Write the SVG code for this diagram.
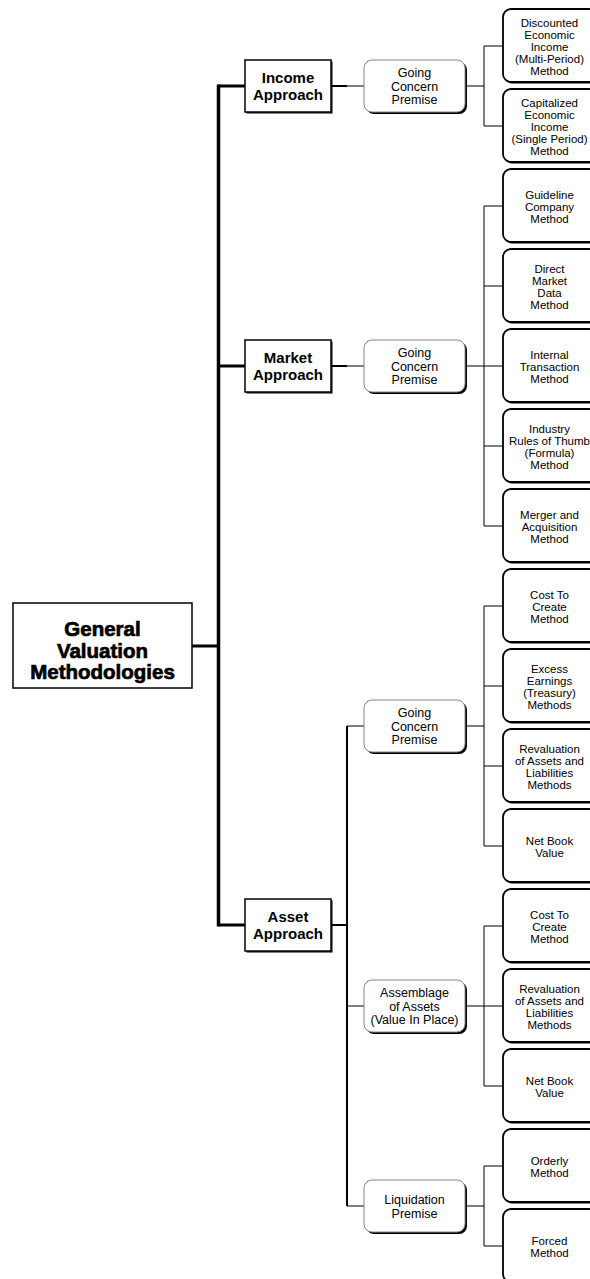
<svg xmlns="http://www.w3.org/2000/svg" width="590" height="1279" viewBox="0 0 590 1279">
<style>
text{font-family:"Liberation Sans",Arial,sans-serif;fill:#000;text-anchor:middle}
.lt{font-size:11.5px}
.pt{font-size:12.5px}
.at{font-size:15px;font-weight:bold}
.gt{font-size:20.5px;font-weight:bold;stroke:#000;stroke-width:0.7}
.leaf{fill:#fff;stroke:#000;stroke-width:1.8}
.prem{fill:#fff;stroke:#888;stroke-width:1}
.sh{fill:#000}
.appr{fill:#fff;stroke:#111;stroke-width:1.6}
.c1{stroke:#000;stroke-width:1;fill:none}
.c2{stroke:#000;stroke-width:2;fill:none}
.c3{stroke:#000;stroke-width:3;fill:none}
.c4{stroke:#000;stroke-width:3.5;fill:none}
</style>
<g id="connectors">
<path class="c4" d="M218.5 84.5V926.5"/>
<path class="c3" d="M192 646H218.5M218.5 86H245M218.5 366H245M218.5 925H245"/>
<path class="c2" d="M331 86H347M331 366H347M331 925H347M347 726V1206"/>
<path class="c1" d="M347 86H364M347 366H364M347 726H364M347 1006H364M347 1206H364"/>
<path class="c1" d="M465 86H484M484 46V126M484 46H503M484 126H503"/>
<path class="c1" d="M465 366H484M484 206V526M484 206H503M484 286H503M484 366H503M484 446H503M484 526H503"/>
<path class="c1" d="M465 726H484M484 606V846M484 606H503M484 686H503M484 766H503M484 846H503"/>
<path class="c1" d="M465 1006H484M484 926V1086M484 926H503M484 1006H503M484 1086H503"/>
<path class="c1" d="M465 1206H484M484 1166V1246M484 1166H503M484 1246H503"/>
</g>
<g id="general">
<rect x="13" y="603" width="179" height="85" fill="#fff" stroke="#000" stroke-width="1.5"/>
<text class="gt" x="102.5" y="636">General</text>
<text class="gt" x="102.5" y="657.5">Valuation</text>
<text class="gt" x="102.5" y="679">Methodologies</text>
</g>
<g id="income-approach">
<rect class="sh" x="246.5" y="61.5" width="86" height="52"/>
<rect class="appr" x="245" y="60" width="86" height="52"/>
<text class="at" x="288" y="83">Income</text>
<text class="at" x="288" y="100">Approach</text>
</g>
<g id="market-approach">
<rect class="sh" x="246.5" y="341.5" width="86" height="52"/>
<rect class="appr" x="245" y="340" width="86" height="52"/>
<text class="at" x="288" y="363">Market</text>
<text class="at" x="288" y="380">Approach</text>
</g>
<g id="asset-approach">
<rect class="sh" x="246.5" y="900.5" width="86" height="52"/>
<rect class="appr" x="245" y="899" width="86" height="52"/>
<text class="at" x="288" y="922">Asset</text>
<text class="at" x="288" y="939">Approach</text>
</g>
<g id="income-premise">
<rect class="sh" x="366" y="62" width="101" height="52" rx="8"/>
<rect class="prem" x="364" y="60" width="101" height="52" rx="8"/>
<text class="pt" x="414.5" y="77">Going</text>
<text class="pt" x="414.5" y="90.5">Concern</text>
<text class="pt" x="414.5" y="104">Premise</text>
</g>
<g id="market-premise">
<rect class="sh" x="366" y="342" width="101" height="52" rx="8"/>
<rect class="prem" x="364" y="340" width="101" height="52" rx="8"/>
<text class="pt" x="414.5" y="357">Going</text>
<text class="pt" x="414.5" y="370.5">Concern</text>
<text class="pt" x="414.5" y="384">Premise</text>
</g>
<g id="asset-going-concern">
<rect class="sh" x="366" y="702" width="101" height="52" rx="8"/>
<rect class="prem" x="364" y="700" width="101" height="52" rx="8"/>
<text class="pt" x="414.5" y="717">Going</text>
<text class="pt" x="414.5" y="730.5">Concern</text>
<text class="pt" x="414.5" y="744">Premise</text>
</g>
<g id="asset-assemblage">
<rect class="sh" x="366" y="982" width="101" height="52" rx="8"/>
<rect class="prem" x="364" y="980" width="101" height="52" rx="8"/>
<text class="pt" x="414.5" y="997">Assemblage</text>
<text class="pt" x="414.5" y="1010.5">of Assets</text>
<text class="pt" x="414.5" y="1024">(Value In Place)</text>
</g>
<g id="asset-liquidation">
<rect class="sh" x="366" y="1182" width="101" height="52" rx="8"/>
<rect class="prem" x="364" y="1180" width="101" height="52" rx="8"/>
<text class="pt" x="414.5" y="1204">Liquidation</text>
<text class="pt" x="414.5" y="1217.5">Premise</text>
</g>
<g id="leaf1">
<rect class="sh" x="504.5" y="10.5" width="94" height="73" rx="8"/>
<rect class="leaf" x="503" y="9" width="94" height="73" rx="8"/>
<text class="lt" x="549.5" y="26.5">Discounted</text>
<text class="lt" x="549.5" y="38.5">Economic</text>
<text class="lt" x="549.5" y="50.5">Income</text>
<text class="lt" x="549.5" y="62.5">(Multi-Period)</text>
<text class="lt" x="549.5" y="74.5">Method</text>
</g>
<g id="leaf2">
<rect class="sh" x="504.5" y="90.5" width="94" height="73" rx="8"/>
<rect class="leaf" x="503" y="89" width="94" height="73" rx="8"/>
<text class="lt" x="549.5" y="106.5">Capitalized</text>
<text class="lt" x="549.5" y="118.5">Economic</text>
<text class="lt" x="549.5" y="130.5">Income</text>
<text class="lt" x="549.5" y="142.5">(Single Period)</text>
<text class="lt" x="549.5" y="154.5">Method</text>
</g>
<g id="leaf3">
<rect class="sh" x="504.5" y="170.5" width="94" height="73" rx="8"/>
<rect class="leaf" x="503" y="169" width="94" height="73" rx="8"/>
<text class="lt" x="549.5" y="198.5">Guideline</text>
<text class="lt" x="549.5" y="210.5">Company</text>
<text class="lt" x="549.5" y="222.5">Method</text>
</g>
<g id="leaf4">
<rect class="sh" x="504.5" y="250.5" width="94" height="73" rx="8"/>
<rect class="leaf" x="503" y="249" width="94" height="73" rx="8"/>
<text class="lt" x="549.5" y="272.5">Direct</text>
<text class="lt" x="549.5" y="284.5">Market</text>
<text class="lt" x="549.5" y="296.5">Data</text>
<text class="lt" x="549.5" y="308.5">Method</text>
</g>
<g id="leaf5">
<rect class="sh" x="504.5" y="330.5" width="94" height="73" rx="8"/>
<rect class="leaf" x="503" y="329" width="94" height="73" rx="8"/>
<text class="lt" x="549.5" y="358.5">Internal</text>
<text class="lt" x="549.5" y="370.5">Transaction</text>
<text class="lt" x="549.5" y="382.5">Method</text>
</g>
<g id="leaf6">
<rect class="sh" x="504.5" y="410.5" width="94" height="73" rx="8"/>
<rect class="leaf" x="503" y="409" width="94" height="73" rx="8"/>
<text class="lt" x="549.5" y="432.5">Industry</text>
<text class="lt" x="549.5" y="444.5">Rules of Thumb</text>
<text class="lt" x="549.5" y="456.5">(Formula)</text>
<text class="lt" x="549.5" y="468.5">Method</text>
</g>
<g id="leaf7">
<rect class="sh" x="504.5" y="490.5" width="94" height="73" rx="8"/>
<rect class="leaf" x="503" y="489" width="94" height="73" rx="8"/>
<text class="lt" x="549.5" y="518.5">Merger and</text>
<text class="lt" x="549.5" y="530.5">Acquisition</text>
<text class="lt" x="549.5" y="542.5">Method</text>
</g>
<g id="leaf8">
<rect class="sh" x="504.5" y="570.5" width="94" height="73" rx="8"/>
<rect class="leaf" x="503" y="569" width="94" height="73" rx="8"/>
<text class="lt" x="549.5" y="598.5">Cost To</text>
<text class="lt" x="549.5" y="610.5">Create</text>
<text class="lt" x="549.5" y="622.5">Method</text>
</g>
<g id="leaf9">
<rect class="sh" x="504.5" y="650.5" width="94" height="73" rx="8"/>
<rect class="leaf" x="503" y="649" width="94" height="73" rx="8"/>
<text class="lt" x="549.5" y="672.5">Excess</text>
<text class="lt" x="549.5" y="684.5">Earnings</text>
<text class="lt" x="549.5" y="696.5">(Treasury)</text>
<text class="lt" x="549.5" y="708.5">Methods</text>
</g>
<g id="leaf10">
<rect class="sh" x="504.5" y="730.5" width="94" height="73" rx="8"/>
<rect class="leaf" x="503" y="729" width="94" height="73" rx="8"/>
<text class="lt" x="549.5" y="752.5">Revaluation</text>
<text class="lt" x="549.5" y="764.5">of Assets and</text>
<text class="lt" x="549.5" y="776.5">Liabilities</text>
<text class="lt" x="549.5" y="788.5">Methods</text>
</g>
<g id="leaf11">
<rect class="sh" x="504.5" y="810.5" width="94" height="73" rx="8"/>
<rect class="leaf" x="503" y="809" width="94" height="73" rx="8"/>
<text class="lt" x="549.5" y="844.5">Net Book</text>
<text class="lt" x="549.5" y="856.5">Value</text>
</g>
<g id="leaf12">
<rect class="sh" x="504.5" y="890.5" width="94" height="73" rx="8"/>
<rect class="leaf" x="503" y="889" width="94" height="73" rx="8"/>
<text class="lt" x="549.5" y="918.5">Cost To</text>
<text class="lt" x="549.5" y="930.5">Create</text>
<text class="lt" x="549.5" y="942.5">Method</text>
</g>
<g id="leaf13">
<rect class="sh" x="504.5" y="970.5" width="94" height="73" rx="8"/>
<rect class="leaf" x="503" y="969" width="94" height="73" rx="8"/>
<text class="lt" x="549.5" y="992.5">Revaluation</text>
<text class="lt" x="549.5" y="1004.5">of Assets and</text>
<text class="lt" x="549.5" y="1016.5">Liabilities</text>
<text class="lt" x="549.5" y="1028.5">Methods</text>
</g>
<g id="leaf14">
<rect class="sh" x="504.5" y="1050.5" width="94" height="73" rx="8"/>
<rect class="leaf" x="503" y="1049" width="94" height="73" rx="8"/>
<text class="lt" x="549.5" y="1084.5">Net Book</text>
<text class="lt" x="549.5" y="1096.5">Value</text>
</g>
<g id="leaf15">
<rect class="sh" x="504.5" y="1130.5" width="94" height="73" rx="8"/>
<rect class="leaf" x="503" y="1129" width="94" height="73" rx="8"/>
<text class="lt" x="549.5" y="1164.5">Orderly</text>
<text class="lt" x="549.5" y="1176.5">Method</text>
</g>
<g id="leaf16">
<rect class="sh" x="504.5" y="1210.5" width="94" height="73" rx="8"/>
<rect class="leaf" x="503" y="1209" width="94" height="73" rx="8"/>
<text class="lt" x="549.5" y="1244.5">Forced</text>
<text class="lt" x="549.5" y="1256.5">Method</text>
</g>
</svg>
